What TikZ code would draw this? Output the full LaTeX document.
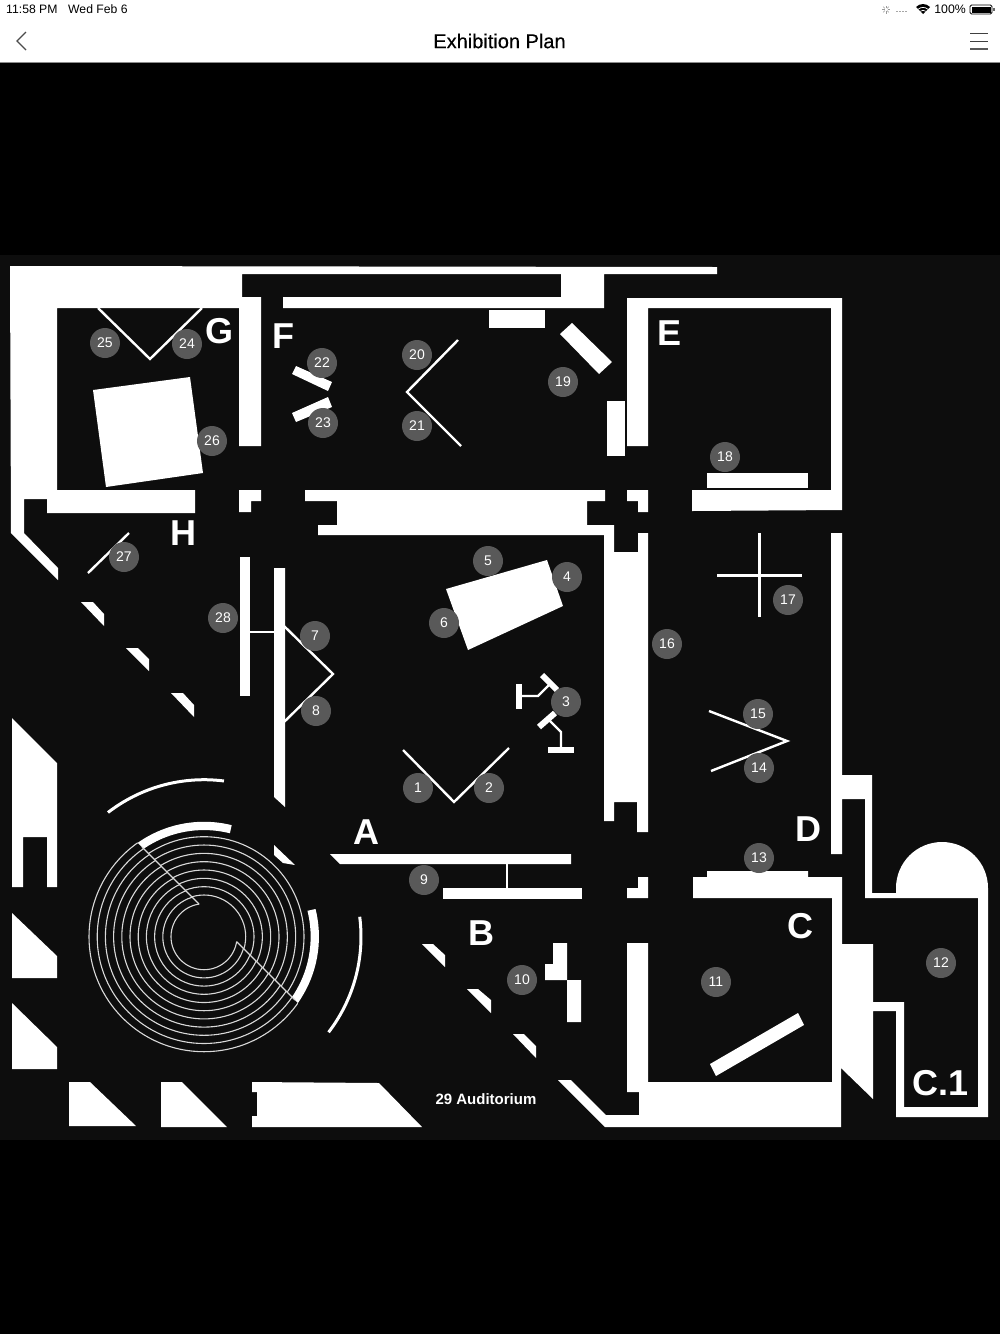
\documentclass[tikz,border=0pt]{standalone}
\usepackage{fontspec}
\setmainfont{Liberation Sans}
\newfontfamily\titlefont[FakeBold=0.35]{Liberation Sans}
\definecolor{plangray}{HTML}{0D0D0D}
\definecolor{dotgray}{HTML}{595959}
\tikzset{
  wall/.style={fill=white,draw=none},
  thinline/.style={draw=white,line width=2.4pt},
  ringline/.style={draw=white!85!black,line width=1.1pt},
  numdot/.style={circle,fill=dotgray,minimum size=30pt,inner sep=0pt,text=white,font=\fontsize{14}{14}\selectfont},
  roomlabel/.style={text=white,inner sep=0pt,font=\fontsize{36}{36}\selectfont\bfseries},
}
\begin{document}
\begin{tikzpicture}[x=1pt,y=-1pt]
\useasboundingbox (0,0) rectangle (1000,1334);
\fill[black] (0,0) rectangle (1000,1334);
\fill[white] (0,0) rectangle (1000,62);
\fill[black!45] (0,61.5) rectangle (1000,63);
\fill[plangray] (0,254.5) rectangle (1000,1140);
% top bar
\node[inner sep=0pt,anchor=west,font=\fontsize{12.2}{12.2}\selectfont] (clock) at (6,9.5) {11:58 PM};
\node[inner sep=0pt,anchor=west,font=\fontsize{12.2}{12.2}\selectfont] (date) at (68,9.5) {Wed Feb 6};
\node[inner sep=0pt,anchor=east,font=\fontsize{12.3}{12.3}\selectfont] (battery) at (966,9.5) {100\%};
\node[inner sep=0pt,font=\fontsize{20}{20}\selectfont\titlefont] (title) at (499.5,41) {Exhibition Plan};
\draw[black!70,line width=1.1pt] (26,32)--(17,41)--(26,50);
\draw[black!75,line width=1pt] (970,33)--(988,33);
\draw[black!75,line width=1pt] (970,41)--(988,41);
\draw[black!65,line width=1.4pt] (970,49)--(988,49);
\draw[black,line width=0.8pt,rounded corners=1.5pt] (970,5)rectangle(992,14);
\fill[black] (971.5,6.5) rectangle (990.5,12.5);
\fill[black!60] (993,8) rectangle (994.5,11);
\fill[black] (923,14)--(916,7) .. controls (920,3) and (926,3) .. (930,7)--cycle;
\draw[white,line width=0.7pt] (918.2,9.2) .. controls (921,6.8) and (925,6.8) .. (927.8,9.2);
\draw[white,line width=0.7pt] (920.3,11.3) .. controls (922,10) and (924,10) .. (925.7,11.3);
\foreach \a in {0,45,...,315} \draw[black!40,line width=0.6pt] (886,9.5)++(\a:1.5pt)--++(\a:2.5pt);
\foreach \x in {896,899,902,905} \fill[black!35] (\x,11) rectangle ++(2,1.2);
% G room and north wall
\fill[wall] (10,266)--(717,267)--(717,274)--(604,274)--(604,308)--(283,308)--(283,297)--(561,297)--(561,274)--(242,274)--(242,297)--(261,297)--(261,446)--(239,446)--(239,308)--(57,308)--(57,490)--(195,490)--(195,513)--(47,513)--(47,499)--(24,499)--(24,533)--(58,568)--(58,580)--(11,533)--cycle;
\draw[thinline] (98,308)--(150,359)--(202,308);
\fill[wall] (93,390)--(190,377)--(203,473)--(106,487)--cycle;
\fill[wall] (296,366)--(332,382)--(328,391)--(292,374)--cycle;
\fill[wall] (328,397)--(332,407)--(296,422)--(292,413)--cycle;
\draw[thinline] (458,340)--(407,392)--(461,446);
\fill[wall] (489,310) rectangle (545,328);
\fill[wall] (572,323)--(612,362)--(599,374)--(560,334)--cycle;
\fill[wall] (607,401) rectangle (625,456);
% E room
\fill[wall] (627,298)--(842,298)--(842,510)--(692,511)--(692,490)--(831,490)--(831,308)--(648,308)--(648,446)--(627,446)--cycle;
\fill[wall] (707,473) rectangle (808,488);
% central band
\fill[wall] (239,490)--(261,490)--(261,501)--(251,501)--(251,512)--(239,512)--cycle;
\fill[wall] (305,490)--(605,490)--(605,501)--(587,501)--(587,525)--(614,525)--(614,552)--(638,552)--(638,533)--(648,533)--(648,832)--(637,832)--(637,802)--(614,802)--(614,821)--(604,821)--(604,535)--(318,535)--(318,525)--(337,525)--(337,501)--(305,501)--cycle;
\fill[wall] (627,490)--(648,490)--(648,512)--(638,512)--(638,501)--(627,501)--cycle;
% hall
\draw[thinline] (129,533)--(88,573);
\fill[wall] (81,602)--(93,602)--(104,614)--(104,626)--cycle;
\fill[wall] (126,648)--(138,648)--(149,659)--(149,671)--cycle;
\fill[wall] (171,693)--(183,693)--(194,705)--(194,717)--cycle;
\fill[wall] (240,557) rectangle (250,696);
\fill[wall] (274,568)--(285,568)--(285,807)--(274,797)--cycle;
\draw[thinline] (250,632)--(274,632);
\draw[thinline] (284,626)--(333,674)--(284,722);
\fill[wall] (446,589)--(547,560)--(563,606)--(468,650)--cycle;
\fill[wall] (516,684) rectangle (522,709);
\draw[thinline] (522,696)--(538,696)--(549,685);
\draw[white,line width=6pt] (542,675)--(557,690);
\draw[white,line width=6pt] (539,727)--(555,713);
\draw[thinline] (549,720)--(561,732)--(561,747);
\fill[wall] (548,747) rectangle (574,753);
\draw[thinline] (403,750)--(454,802)--(509,748);
% A and B
\fill[wall] (330,854)--(571,854)--(571,864)--(340,864)--cycle;
\fill[wall] (443,888) rectangle (582,899);
\draw[thinline] (507,864)--(507,888);
\fill[wall] (638,877)--(648,877)--(648,898)--(627,898)--(627,888)--(638,888)--cycle;
\fill[wall] (422,944)--(433,944)--(445,955)--(445,967)--cycle;
\fill[wall] (467,989)--(478,989)--(491,1000)--(491,1013)--cycle;
\fill[wall] (513,1034)--(524,1034)--(536,1046)--(536,1058)--cycle;
\fill[wall] (553,943)--(567,943)--(567,980)--(581,980)--(581,1022)--(567,1022)--(567,980)--(545,980)--(545,964)--(553,964)--cycle;
% C, C.1 and D walls
\fill[wall] (831,533)--(842,533)--(842,775)--(872,775)--(872,893)--(896,893)--(896,888) .. controls (896,862.6) and (916.6,842) .. (942,842) .. controls (967.4,842) and (988,862.6) .. (988,888)--(988,1117)--(896,1117)--(896,1011)--(873,1011)--(873,1099)--(841,1068)--(841,1127)--(605,1127)--(558,1080)--(571,1080)--(606,1115)--(639,1115)--(639,1092)--(627,1092)--(627,943)--(648,943)--(648,1082)--(832,1082)--(832,898)--(693,898)--(693,877)--(707,877)--(707,871)--(808,871)--(808,877)--(842,877)--(842,944)--(873,944)--(873,1002)--(904,1002)--(904,1107)--(978,1107)--(978,898)--(865,898)--(865,799)--(842,799)--(842,854)--(831,854)--cycle;
\fill[wall] (798,1013)--(804,1025)--(716,1076)--(710,1064)--cycle;
\draw[draw=white,line width=3pt] (759,533)--(759,617);
\draw[draw=white,line width=3pt] (717,575)--(802,575);
\draw[thinline] (709,711)--(787,741)--(711,771);
% west side
\fill[wall] (12,718)--(57,763)--(57,887)--(47,887)--(47,837)--(23,837)--(23,887)--(12,887)--cycle;
\fill[wall] (12,913)--(57,956)--(57,978)--(12,978)--cycle;
\fill[wall] (12,1003)--(57,1047)--(57,1069)--(12,1069)--cycle;
\fill[wall] (69,1082)--(90,1082)--(136,1126)--(69,1126)--cycle;
\fill[wall] (161,1082)--(182,1082)--(227,1127)--(161,1127)--cycle;
\fill[wall] (252,1082)--(379,1083)--(422,1127)--(252,1127)--(252,1116)--(257,1116)--(257,1092)--(252,1092)--cycle;
\fill[wall] (274,845)--(295,865)--(283,863)--(274,855)--cycle;
% spiral
\coordinate (cen) at (204,936.7);
\begin{scope}
\clip (-100,605)--(500,1205)--(-100,1205)--cycle;
\foreach \r in {0,...,10} \draw[ringline] (cen) circle ({33+8.2*\r});
\end{scope}
\begin{scope}
\clip (-100,605)--(500,1205)--(500,605)--cycle;
\foreach \r in {0,...,7} \draw[ringline] (cen) circle ({41.7+8.33*\r});
\draw[white,line width=8.3pt,shift={(cen)}] plot[domain=76:145,samples=30] (\x:110.8pt);
\draw[white,line width=8.3pt,shift={(cen)}] plot[domain=14:-65,samples=30] (\x:110.8pt);
\end{scope}
\draw[ringline] (199,904)--(142,847);
\draw[ringline] (236.7,941.7)--(295,1000);
\draw[white,line width=3pt,shift={(cen)}] plot[domain=82.7:127.7,samples=30] (\x:157pt);
\draw[white,line width=3pt,shift={(cen)}] plot[domain=7.3:-37.5,samples=30] (\x:157pt);
% numbers
\foreach \n/\x/\y in {1/418/788,2/489/788,3/566/702,4/567/577,5/488/561,6/444/623,7/315/636,8/316/711,9/424/880,10/522/980,11/716/982,12/941/963,13/759/858,14/759/768,15/758/714,16/667/644,17/788/600,18/725/457,19/563/382,20/417/355,21/417/426,22/322/363,23/323/423,24/187/344,25/105/343,26/212/441,27/124/557,28/223/618}
  \node[numdot] (n\n) at (\x,\y) {\n};
\foreach \n/\x/\y in {A/366/832,B/481/933,C/800/926,D/808/829,E/669/333,F/283/336,G/219/331,H/183/533}
  \node[roomlabel] (room\n) at (\x,\y) {\n};
\node[roomlabel] (roomC1) at (941,1083) {C.1};
\node[text=white,inner sep=0pt,font=\fontsize{15}{15}\selectfont\bfseries] (auditorium) at (486,1099) {29 Auditorium};
\end{tikzpicture}
\end{document}
